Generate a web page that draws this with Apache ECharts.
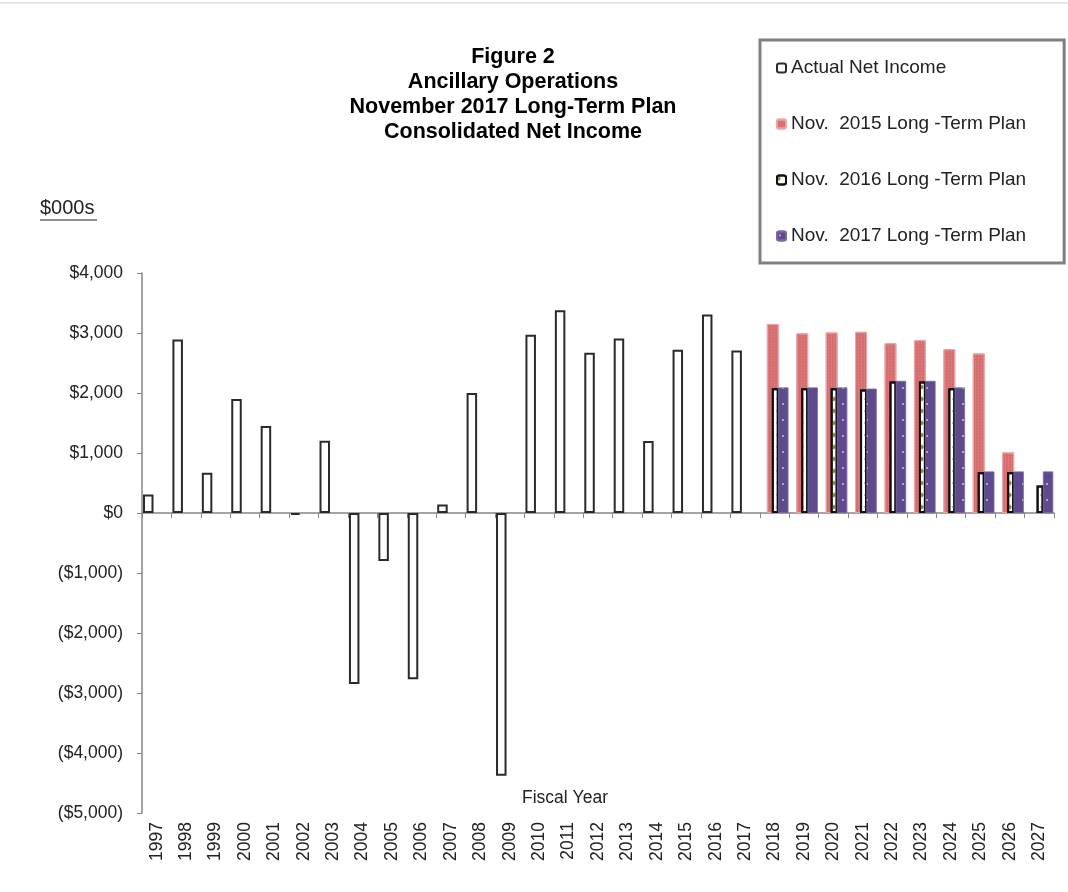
<!DOCTYPE html>
<html>
<head>
<meta charset="utf-8">
<script src="https://cdn.jsdelivr.net/npm/echarts@6/dist/echarts.min.js"></script>
<style>
html,body{margin:0;padding:0;background:#fff;}
#chart{width:1068px;height:892px;}
</style>
</head>
<body>
<div id="chart"></div>
<script>
// ---- data ----
const years = ['1997','1998','1999','2000','2001','2002','2003','2004','2005','2006','2007','2008','2009','2010','2011','2012','2013','2014','2015','2016','2017','2018','2019','2020','2021','2022','2023','2024','2025','2026','2027'];
const actualNetIncome = [310,2890,670,1900,1450,-30,1205,-2850,-800,-2770,140,2000,-4380,2970,3380,2670,2910,1200,2720,3310,2710,null,null,null,null,null,null,null,null,null,null];
const plan2015 = [null,null,null,null,null,null,null,null,null,null,null,null,null,null,null,null,null,null,null,null,null,3150,2995,3010,3020,2830,2880,2730,2660,1010,null];
const plan2016 = [null,null,null,null,null,null,null,null,null,null,null,null,null,null,null,null,null,null,null,null,null,2080,2080,2080,2060,2190,2190,2080,680,680,460];
const plan2017 = [null,null,null,null,null,null,null,null,null,null,null,null,null,null,null,null,null,null,null,null,null,2090,2090,2090,2070,2200,2200,2090,690,690,690];
const seriesNames = ['Actual Net Income','Nov.  2015 Long -Term Plan','Nov.  2016 Long -Term Plan','Nov.  2017 Long -Term Plan'];
const titleLines = ['Figure 2','Ancillary Operations','November 2017 Long-Term Plan','Consolidated Net Income'];
const unitLabel = '$000s';
const xAxisName = 'Fiscal Year';

// ---- layout ----
const G = {left:142, right:14, top:273, bottom:79};
const shifts = [0, -8.46, -1.71, 0.79, 8.79]; // main, actual, 2015, 2016, 2017
const yMin = -5000, yMax = 4000;
const FONT = '"Liberation Sans", Arial, sans-serif';

function fmt(v){
  const s = '$' + Math.abs(v).toLocaleString('en-US');
  return v < 0 ? '(' + s + ')' : s;
}

const grids = shifts.map(s => ({left:G.left + s, right:G.right - s, top:G.top, bottom:G.bottom}));
const xAxes = [];
const yAxes = [];
shifts.forEach((s,i) => {
  if (i === 0) {
    xAxes.push({
      type:'category', data:years, gridIndex:0, position:'bottom',
      axisLine:{show:true, onZero:true, lineStyle:{color:'#868686', width:1.5}},
      axisTick:{show:true, length:5, interval:0, lineStyle:{color:'#868686'}},
      axisLabel:{show:false}, splitLine:{show:false}
    });
    yAxes.push({
      type:'value', gridIndex:0, min:yMin, max:yMax, interval:1000,
      axisLine:{show:true, lineStyle:{color:'#868686', width:1.5}},
      axisTick:{show:true, length:5, lineStyle:{color:'#868686'}},
      splitLine:{show:false},
      axisLabel:{formatter:fmt, fontFamily:FONT, fontSize:17.5, color:'#222', margin:19}
    });
  } else {
    xAxes.push({type:'category', data:years, gridIndex:i, show:false});
    yAxes.push({type:'value', gridIndex:i, min:yMin, max:yMax, show:false});
  }
});
// label-only axis at the bottom
xAxes.push({
  type:'category', data:years, gridIndex:0, position:'bottom',
  axisLine:{show:false, onZero:false}, axisTick:{show:false},
  axisLabel:{show:true, rotate:90, fontFamily:FONT, fontSize:17.5, color:'#222', margin:9, interval:0}
});

const chart = echarts.init(document.getElementById('chart'), null, {renderer:'canvas'});
chart.setOption({
  animation:false,
  backgroundColor:'#fff',
  grid:grids,
  xAxis:xAxes,
  yAxis:yAxes,
  legend:{
    orient:'vertical', left:760, top:40,
    data:seriesNames,
    itemWidth:9, itemHeight:9, itemGap:34,
    padding:[17,38,16,16],
    borderColor:'#7f7f7f', borderWidth:3,
    textStyle:{fontFamily:FONT, fontSize:19, color:'#222', lineHeight:22},
    selectedMode:false
  },
  graphic:[
    {type:'line', shape:{x1:0,y1:3,x2:1068,y2:3}, style:{stroke:'#cfcfcf', lineWidth:1}},
    {type:'text', x:513, y:45, style:{text:titleLines.join('\n'), align:'center', verticalAlign:'top', font:'bold 21.5px "Liberation Sans", Arial', lineHeight:25, fill:'#000'}},
    {type:'text', x:40, y:198, style:{text:unitLabel, align:'left', verticalAlign:'top', font:'20px "Liberation Sans", Arial', fill:'#222'}},
    {type:'line', shape:{x1:40,y1:220,x2:97,y2:220}, style:{stroke:'#222', lineWidth:1}},
    {type:'text', x:565, y:789, style:{text:xAxisName, align:'center', verticalAlign:'top', font:'17.5px "Liberation Sans", Arial', fill:'#222'}}
  ],
  series:[
    {
      name:seriesNames[1], type:'bar', xAxisIndex:2, yAxisIndex:2, data:plan2015, barWidth:12,
      itemStyle:{color:'#d66d6f', borderColor:'#eaa6a6', borderWidth:1,
        decal:{symbol:'rect', symbolSize:0.5, color:'rgba(255,235,235,0.55)', dashArrayX:[1,2], dashArrayY:[2,1], rotation:0}}
    },
    {
      name:seriesNames[2], type:'bar', xAxisIndex:3, yAxisIndex:3, data:plan2016, barWidth:7,
      itemStyle:{color:'#ffffff', borderColor:'#111', borderWidth:2,
        decal:{symbol:'diamond', symbolSize:0.9, color:'#8e8240', dashArrayX:[4,4], dashArrayY:[6,6], rotation:0}}
    },
    {
      name:seriesNames[3], type:'bar', xAxisIndex:4, yAxisIndex:4, data:plan2017, barWidth:10,
      itemStyle:{color:'#5e4a8c', borderColor:'#7a68a2', borderWidth:0.5,
        decal:{symbol:'circle', symbolSize:0.3, color:'rgba(255,255,255,0.75)', dashArrayX:[6,6], dashArrayY:[8,8], rotation:0}}
    },
    {
      name:seriesNames[0], type:'bar', xAxisIndex:1, yAxisIndex:1, data:actualNetIncome, barWidth:10.5,
      itemStyle:{color:'#ffffff', borderColor:'#2a2a2a', borderWidth:2}
    }
  ]
});
</script>
</body>
</html>
